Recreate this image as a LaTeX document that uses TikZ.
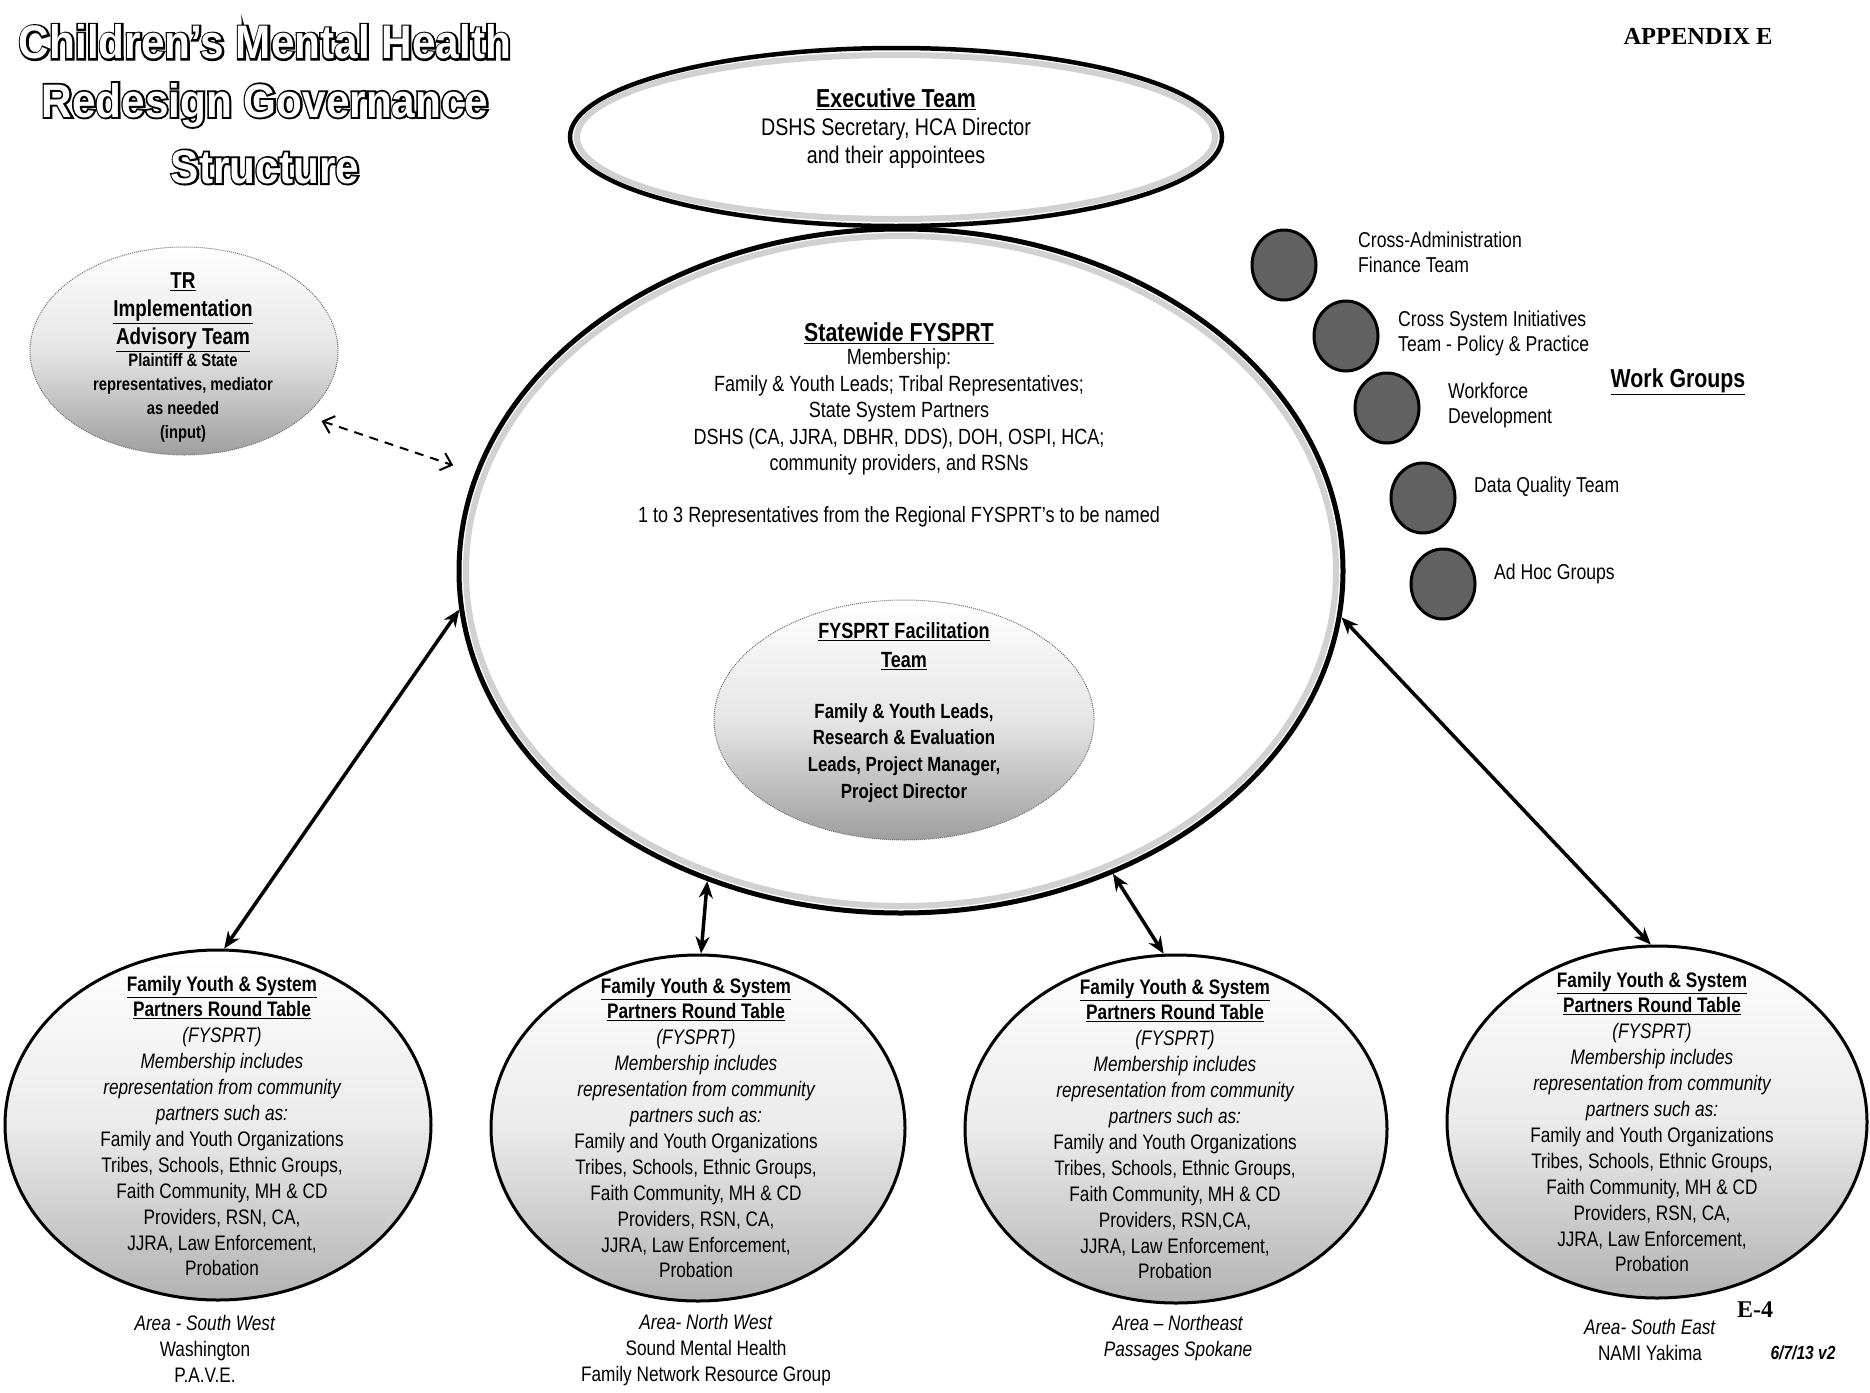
\documentclass[tikz,border=0pt]{standalone}
\usepackage{fontspec}
\usepackage{graphicx}
\setmainfont{Liberation Sans}[FakeStretch=0.82]
\newfontfamily\serifbf{Liberation Serif}
\newfontfamily\ttlS{Liberation Sans}[FakeStretch=0.9, BoldFeatures={FakeBold=8}]
\newfontfamily\ttlF{Liberation Sans}[FakeStretch=0.9]
\usetikzlibrary{shapes.geometric,arrows.meta}
\newcommand\fsz[2]{\fontsize{#1}{#2}\selectfont}
\newcommand\rtbody[3]{%
{\bfseries\underline{Family Youth \& System}}\\%
{\bfseries\underline{Partners Round Table}}\\%
{\itshape (FYSPRT)}\\%
{\itshape Membership includes}\\%
{\itshape representation from community}\\%
{\itshape partners such as:}\\%
Family and Youth Organizations\\%
Tribes, Schools, Ethnic Groups,\\%
#1\\#2\\#3\\Probation}
\begin{document}
\begin{tikzpicture}[x=1pt,y=-1pt,
  txt/.style={align=center,inner sep=0pt,outer sep=0pt},
  lbl/.style={align=left,anchor=west,inner sep=0pt,font=\fsz{21.5}{25.5}},
  bigell/.style={ellipse,draw=black,line width=5pt,fill=white,inner sep=0pt},
  shadeell/.style={ellipse,inner sep=0pt,draw=black!55,line width=1pt,densely dotted,
     top color=white,bottom color=black!38,middle color=black!10},
  rtell/.style={ellipse,inner sep=0pt,draw=black,line width=3pt,
     top color=white,bottom color=black!30,middle color=black!8},
  wg/.style={ellipse,inner sep=0pt,minimum width=64pt,minimum height=70pt,
     draw=black,line width=3pt,fill=black!62},
  band/.style={black!18,line width=6pt},
  conn/.style={line width=3.5pt,{Stealth[length=17pt,width=14pt]}-{Stealth[length=17pt,width=14pt]}},
  dasharrow/.style={line width=2pt,dash pattern=on 9pt off 7pt,
     {Straight Barb[length=10pt,width=18pt]}-{Straight Barb[length=10pt,width=18pt]}},
  ttls/.style={txt,font=\ttlS\bfseries\fsz{47}{56}},
  ttlf/.style={txt,font=\ttlF\bfseries\fsz{47}{56},text=white},
  rtxt/.style={txt,font=\fsz{21}{25.9}},
  below/.style={txt,font=\fsz{21}{25.7}}
]
\useasboundingbox (0,0) rectangle (1870,1392);
\fill[white] (0,0) rectangle (1870,1392);

% ---- title ----
\node[ttls] (t1s) at (265,42) {Children’s Mental Health};
\node[ttlf] (t1)  at (265,42) {Children’s Mental Health};
\node[ttls] (t2s) at (265,105) {Redesign Governance};
\node[ttlf] (t2)  at (265,105) {Redesign Governance};
\node[ttls] (t3s) at (265,167) {Structure};
\node[ttlf] (t3)  at (265,167) {Structure};

\node[txt,font=\serifbf\bfseries\fsz{24.5}{28}] (app) at (1698,36) {APPENDIX E};

% ---- executive team ----
\node[bigell,line width=4.5pt,minimum width=652pt,minimum height=178pt] (ex) at (896,137) {};
\draw[band] (ex.center) ellipse [x radius=319, y radius=82];
\node[txt,font=\bfseries\fsz{26}{30}] (ext1) at (896,99) {\underline{Executive Team}};
\node[txt,font=\fsz{24}{28}] (ext2) at (896,143) {DSHS Secretary, HCA Director\\and their appointees};

% ---- statewide ----
\node[bigell,minimum width=884pt,minimum height=684pt] (sw) at (901,571) {};
\draw[band] (sw.center) ellipse [x radius=435, y radius=335];
\node[txt,font=\bfseries\fsz{26}{30}] (swt1) at (899,333) {\underline{Statewide FYSPRT}};
\node[txt,font=\fsz{22}{26.5}] (swt2) at (899,412) {Membership:\\Family \& Youth Leads; Tribal Representatives;\\State System Partners\\DSHS (CA, JJRA, DBHR, DDS), DOH, OSPI, HCA;\\community providers, and RSNs};
\node[txt,font=\fsz{22}{26.5}] (swt3) at (899,517) {1 to 3 Representatives from the Regional FYSPRT’s to be named};

% ---- facilitation ----
\node[shadeell,minimum width=380pt,minimum height=240pt] (fac) at (904,720) {};
\node[txt,font=\bfseries\fsz{22}{29}] (fct1) at (904,646) {\underline{FYSPRT Facilitation}\\\underline{Team}};
\node[txt,font=\bfseries\fsz{20.5}{26.7}] (fct2) at (904,753) {Family \& Youth Leads,\\Research \& Evaluation\\Leads, Project Manager,\\Project Director};

% ---- TR ----
\node[shadeell,minimum width=308pt,minimum height=208pt] (tr) at (184,351) {};
\node[txt,font=\bfseries\fsz{23}{28}] (trt1) at (183,312) {\underline{TR}\\\underline{Implementation}\\\underline{Advisory Team}};
\node[txt,font=\bfseries\fsz{18}{24}] (trt2) at (183,398) {Plaintiff \& State\\representatives, mediator\\as needed\\(input)};
\draw[dasharrow,shorten <=17pt,shorten >=23pt] (tr.-28) -- (sw.167.7);

% ---- work groups ----
\node[wg] (wg1) at (1284,265) {};
\node[wg] (wg2) at (1346,336) {};
\node[wg] (wg3) at (1387,408) {};
\node[wg] (wg4) at (1423,498) {};
\node[wg] (wg5) at (1443,584) {};
\node[lbl] (wl1) at (1358,252.5) {Cross-Administration\\Finance Team};
\node[lbl] (wl2) at (1398,333.5) {Cross System Initiatives\\Team - Policy \& Practice};
\node[lbl] (wl3) at (1448,405.5) {Workforce\\Development};
\node[lbl] (wl4) at (1474,487) {Data Quality Team};
\node[lbl] (wl5) at (1494,574) {Ad Hoc Groups};
\node[txt,font=\bfseries\fsz{26}{30}] (wgt) at (1678,382) {\underline{Work Groups}};

% ---- regional round tables ----
\node[rtell,minimum width=426pt,minimum height=350pt] (b1) at (218,1125) {};
\node[rtell,minimum width=414pt,minimum height=346pt] (b2) at (698,1128) {};
\node[rtell,minimum width=422pt,minimum height=348pt] (b3) at (1176,1129) {};
\node[rtell,minimum width=420pt,minimum height=352pt] (b4) at (1657,1122) {};
\node[rtxt] (bt1) at (222,1126) {\rtbody{Faith Community, MH \& CD}{Providers, RSN, CA,}{JJRA, Law Enforcement,}};
\node[rtxt] (bt2) at (696,1128) {\rtbody{Faith Community, MH \& CD}{Providers, RSN, CA,}{JJRA, Law Enforcement,}};
\node[rtxt] (bt3) at (1175,1129) {\rtbody{Faith Community, MH \& CD}{Providers, RSN,CA,}{JJRA, Law Enforcement,}};
\node[rtxt] (bt4) at (1652,1122) {\rtbody{Faith Community, MH \& CD}{Providers, RSN, CA,}{JJRA, Law Enforcement,}};

\node[below] (lb1) at (205,1349) {\textit{Area - South West}\\Washington\\P.A.V.E.};
\node[below] (lb2) at (706,1350) {\textit{Area- North West}\\Sound Mental Health\\Family Network Resource Group};
\node[below] (lb3) at (1178,1338) {\textit{Area – Northeast}\\\textit{Passages Spokane}};
\node[below] (lb4) at (1650,1340) {\textit{Area- South East}\\NAMI Yakima};
\node[txt,font=\serifbf\bfseries\fsz{24}{28}] (e4) at (1755,1310) {E-4};
\node[txt,font=\bfseries\itshape\fsz{19}{23}] (ver) at (1803,1353) {6/7/13 v2};

% ---- connectors ----
\draw[conn] (b1.88) -- (sw.185.7);
\draw[conn] (b2.89) -- (sw.238.6);
\draw[conn] (b3.94) -- (sw.305.3);
\draw[conn] (b4.92) -- (sw.354);
\end{tikzpicture}
\end{document}
